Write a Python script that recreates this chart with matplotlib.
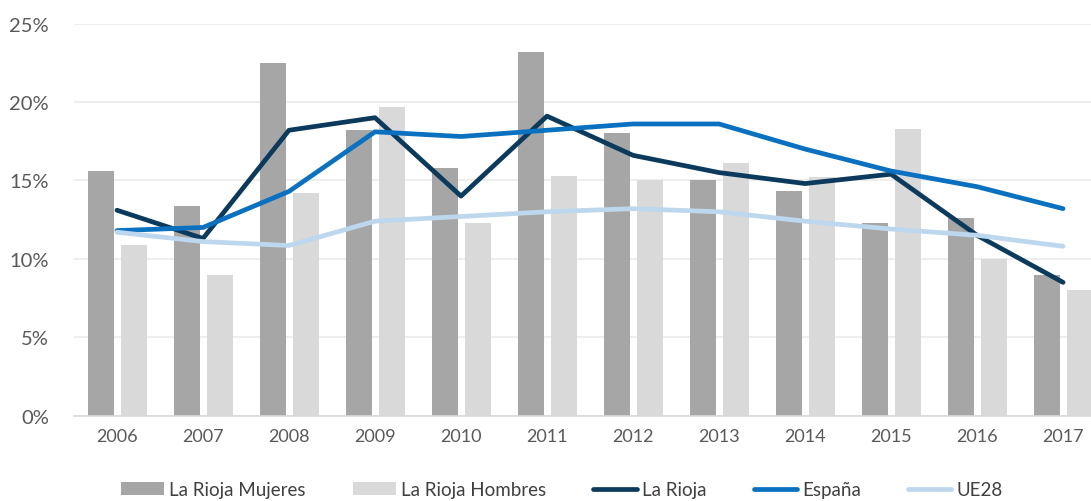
import matplotlib.pyplot as plt
import numpy as np

years = ["2006", "2007", "2008", "2009", "2010", "2011",
         "2012", "2013", "2014", "2015", "2016", "2017"]
rioja_mujeres = [15.6, 13.4, 22.5, 18.2, 15.8, 23.2, 18.0, 15.0, 14.3, 12.3, 12.6, 9.0]
rioja_hombres = [10.9, 9.0, 14.2, 19.7, 12.3, 15.3, 15.0, 16.1, 15.2, 18.3, 10.0, 8.0]
la_rioja = [13.1, 11.3, 18.2, 19.0, 14.0, 19.1, 16.6, 15.5, 14.8, 15.4, 11.5, 8.5]
espana = [11.8, 12.0, 14.3, 18.1, 17.8, 18.2, 18.6, 18.6, 17.0, 15.6, 14.6, 13.2]
ue28 = [11.7, 11.1, 10.85, 12.4, 12.7, 13.0, 13.2, 13.0, 12.4, 11.9, 11.5, 10.8]

plt.rcParams["font.family"] = ["Lato", "DejaVu Sans"]

fig = plt.figure(figsize=(10.91, 5.02), dpi=100)
ax = fig.add_axes([0.0678, 0.170, 0.946, 0.781])

x = np.arange(len(years))
w = 0.30
b1 = ax.bar(x - 0.19, rioja_mujeres, w, color="#a6a6a6", label="La Rioja Mujeres", zorder=2)
b2 = ax.bar(x + 0.195, rioja_hombres, w, color="#d9d9d9", label="La Rioja Hombres", zorder=2)
l1, = ax.plot(x, la_rioja, color="#0b3a5c", lw=3.4, label="La Rioja", zorder=3,
              solid_capstyle="round")
l2, = ax.plot(x, espana, color="#0a70c0", lw=3.4, label="España", zorder=3,
              solid_capstyle="round")
l3, = ax.plot(x, ue28, color="#bdd7ee", lw=3.4, label="UE28", zorder=3,
              solid_capstyle="round")

ax.set_xlim(-0.5, 11.5)
ax.set_ylim(0, 25)
ax.set_yticks(range(0, 26, 5))
ax.set_yticklabels([f"{v}%" for v in range(0, 26, 5)])
ax.set_xticks(x)
ax.set_xticklabels(years)
ax.tick_params(axis="y", length=0, pad=18, labelsize=14.5, labelcolor="#595959")
ax.tick_params(axis="x", length=0, pad=9, labelsize=13, labelcolor="#595959")
ax.grid(axis="y", color="#ebebeb", lw=1.2, zorder=0)
for s in ["top", "right", "left"]:
    ax.spines[s].set_visible(False)
ax.spines["bottom"].set_color("#d9d9d9")
ax.spines["bottom"].set_linewidth(1.2)

fig.legend(handles=[b1, b2, l1, l2, l3], loc="center", bbox_to_anchor=(0.515, 0.022),
           ncol=5, frameon=False, fontsize=13.5, labelcolor="#404040",
           handlelength=2.3, handletextpad=0.3, columnspacing=2.5, handleheight=0.7)

fig.savefig("out.png", dpi=100)
